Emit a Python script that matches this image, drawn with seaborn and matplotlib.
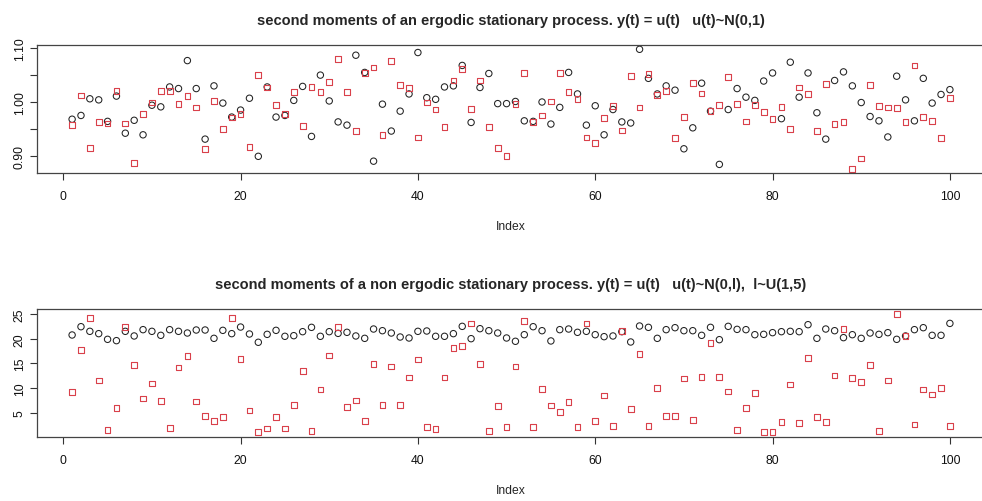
import pandas as pd
import seaborn as sns
import matplotlib.pyplot as plt

# x positions for every series
index = list(range(1, 101))

# top panel: ergodic process (circles = black series, squares = red series)
ergodic_circles = [
    0.968, 0.975, 1.006, 1.004, 0.964, 1.011, 0.942, 0.966, 0.939, 0.994,
    0.991, 1.028, 1.025, 1.077, 1.025, 0.931, 1.030, 0.998, 0.972, 0.985,
    1.007, 0.899, 1.028, 0.972, 0.975, 1.003, 1.029, 0.936, 1.050, 1.002,
    0.963, 0.957, 1.087, 1.055, 0.890, 0.996, 0.946, 0.983, 1.015, 1.092,
    1.008, 1.005, 1.028, 1.030, 1.068, 0.962, 1.027, 1.053, 0.997, 0.997,
    1.001, 0.965, 0.964, 1.000, 0.959, 0.990, 1.055, 1.015, 0.957, 0.993,
    0.939, 0.986, 0.963, 0.961, 1.098, 1.044, 1.015, 1.030, 1.022, 0.913,
    0.952, 1.035, 0.983, 0.884, 0.986, 1.025, 1.009, 1.003, 1.039, 1.054,
    0.969, 1.074, 1.009, 1.054, 0.980, 0.931, 1.040, 1.056, 1.030, 0.999,
    0.973, 0.965, 0.935, 1.048, 1.004, 0.965, 1.044, 0.998, 1.014, 1.023,
]
ergodic_squares = [
    0.957, 1.012, 0.914, 0.963, 0.960, 1.020, 0.960, 0.886, 0.978, 0.999,
    1.020, 1.020, 0.996, 1.011, 0.990, 0.913, 1.002, 0.950, 0.971, 0.978,
    0.917, 1.050, 1.027, 0.994, 0.978, 1.018, 0.955, 1.028, 1.018, 1.037,
    1.080, 1.019, 0.946, 1.054, 1.064, 0.939, 1.076, 1.031, 1.026, 0.934,
    0.999, 0.986, 0.953, 1.040, 1.061, 0.987, 1.040, 0.954, 0.915, 0.899,
    0.996, 1.054, 0.963, 0.975, 1.001, 1.054, 1.018, 1.005, 0.934, 0.924,
    0.970, 0.993, 0.947, 1.049, 0.990, 1.052, 1.013, 1.021, 0.933, 0.972,
    1.036, 1.016, 0.983, 0.994, 1.046, 0.996, 0.964, 0.994, 0.982, 0.968,
    0.991, 0.950, 1.027, 1.015, 0.946, 1.034, 0.959, 0.963, 0.876, 0.895,
    1.032, 0.992, 0.990, 0.989, 0.963, 1.068, 0.972, 0.965, 0.933, 1.008,
]

# bottom panel: non ergodic process
nonergodic_circles = [
    20.76, 22.44, 21.50, 21.03, 19.88, 19.61, 21.50, 20.56, 21.84, 21.50,
    20.69, 21.84, 21.50, 21.16, 21.77, 21.77, 20.08, 21.70, 21.03, 22.37,
    20.96, 19.28, 20.89, 21.70, 20.49, 20.62, 21.43, 22.31, 20.49, 21.43,
    21.09, 21.30, 20.56, 20.08, 21.97, 21.63, 21.16, 20.35, 20.15, 21.50,
    21.57, 20.49, 20.49, 21.03, 22.51, 20.01, 22.04, 21.63, 21.16, 20.15,
    19.48, 20.82, 22.44, 21.63, 19.55, 21.84, 21.97, 21.30, 21.50, 20.82,
    20.42, 20.56, 21.43, 19.34, 22.58, 22.31, 20.08, 21.84, 22.24, 21.63,
    21.63, 20.69, 22.31, 19.81, 22.51, 21.90, 21.84, 20.82, 20.89, 21.23,
    21.43, 21.50, 21.43, 22.85, 20.08, 21.97, 21.63, 20.22, 20.82, 20.08,
    21.16, 20.89, 21.23, 19.88, 20.56, 21.84, 22.24, 20.69, 20.69, 23.11,
]
nonergodic_squares = [
    9.17, 17.73, 24.19, 11.53, 1.43, 5.88, 22.37, 14.70, 7.90, 10.93,
    7.42, 1.84, 14.16, 16.52, 7.29, 4.39, 3.38, 4.12, 24.19, 15.91,
    5.47, 1.03, 1.77, 4.06, 1.77, 6.62, 13.42, 1.23, 9.71, 16.58,
    22.31, 6.21, 7.49, 3.25, 14.90, 6.62, 14.36, 6.62, 12.14, 15.78,
    2.17, 1.63, 12.14, 18.10, 18.50, 23.11, 14.90, 1.30, 6.41, 2.17,
    14.36, 23.59, 2.17, 9.85, 6.48, 5.13, 7.15, 2.10, 23.11, 3.38,
    8.50, 2.37, 21.50, 5.74, 16.85, 2.31, 10.05, 4.39, 4.39, 11.94,
    3.52, 12.27, 19.07, 12.20, 9.31, 1.50, 5.94, 9.04, 1.09, 1.09,
    3.18, 10.72, 2.98, 16.04, 4.06, 3.11, 12.54, 22.04, 12.07, 11.26,
    14.63, 1.30, 11.53, 25.07, 20.49, 2.58, 9.71, 8.70, 9.98, 2.29,
]

titles = [
    "second moments of an ergodic stationary process. y(t) = u(t)   u(t)~N(0,1)",
    "second moments of a non ergodic stationary process. y(t) = u(t)   u(t)~N(0,l),  l~U(1,5)",
]
y_ticks = [[0.90, 0.95, 1.00, 1.05, 1.10], [5, 10, 15, 20, 25]]
y_ticklabels = [["0.90", "", "1.00", "", "1.10"], ["5", "10", "15", "20", "25"]]
y_limits = [(0.868, 1.106), (0.07, 26.03)]
x_ticks = [0, 20, 40, 60, 80, 100]

sns.set_style("ticks")
plt.rcParams['font.family'] = ['Liberation Sans', 'DejaVu Sans']

fig = plt.figure(figsize=(9.82, 5.02), dpi=100)
# R style boxes, the right edge runs past the picture like the source
ax1 = fig.add_axes([37 / 982, 1 - 174 / 502, 948 / 982, 128 / 502])
ax2 = fig.add_axes([37 / 982, 1 - 438 / 502, 948 / 982, 128 / 502])

frames = [
    pd.DataFrame({"Index": index, "circles": ergodic_circles, "squares": ergodic_squares}),
    pd.DataFrame({"Index": index, "circles": nonergodic_circles, "squares": nonergodic_squares}),
]

for k, (ax, df) in enumerate(zip([ax1, ax2], frames)):
    sns.scatterplot(data=df, x="Index", y="circles", ax=ax, marker="o", s=21,
                    facecolor="none", edgecolor="#222222", linewidth=0.75)
    sns.scatterplot(data=df, x="Index", y="squares", ax=ax, marker="s", s=17,
                    facecolor="none", edgecolor="#d9404a", linewidth=0.8)

    ax.set_xlim(-2.96, 103.96)
    ax.set_ylim(*y_limits[k])
    ax.set_xticks(x_ticks)
    ax.set_xticklabels([str(t) for t in x_ticks])
    ax.set_yticks(y_ticks[k])
    ax.set_yticklabels(y_ticklabels[k], rotation=90, va="center")
    ax.tick_params(axis="both", direction="out", length=5, width=0.8,
                   color="#333333", labelsize=8.7, labelcolor="#111111")
    ax.tick_params(axis="x", pad=7)
    ax.tick_params(axis="y", pad=3)
    ax.set_xlabel("Index", fontsize=8.7, labelpad=13)
    ax.set_ylabel("")
    ax.set_title(titles[k], fontsize=10.5, fontweight="bold", pad=15)
    for side in ax.spines.values():
        side.set_color("#444444")
        side.set_linewidth(0.9)
    ax.grid(False)

fig.savefig("out.png", dpi=100)
